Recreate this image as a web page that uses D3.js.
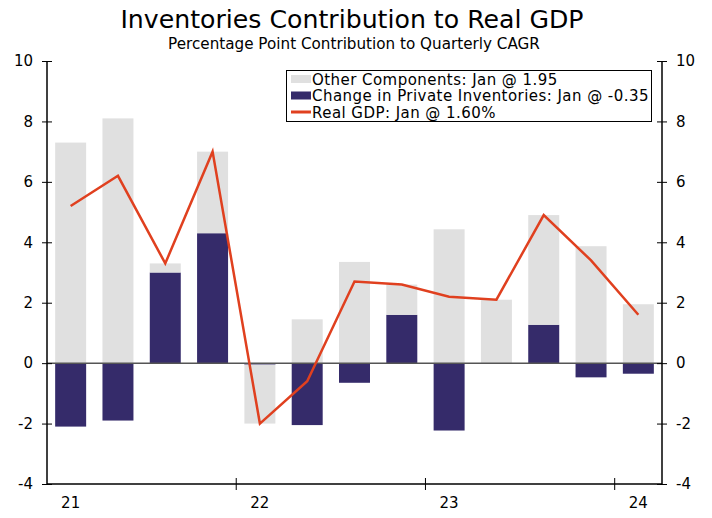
<!DOCTYPE html>
<html>
<head>
<meta charset="utf-8">
<script src="https://cdn.jsdelivr.net/npm/d3@7"></script>
<style>
  body { margin: 0; background: #fff; }
  svg { font-family: 'DejaVu Sans', Verdana, sans-serif; }
</style>
</head>
<body>
<svg width="712" height="518"></svg>
<script>
// Quarterly data, 2021Q1 - 2024Q1.
const QUARTERS = ['21Q1', '21Q2', '21Q3', '21Q4', '22Q1', '22Q2', '22Q3',
  '22Q4', '23Q1', '23Q2', '23Q3', '23Q4', '24Q1'];
const OTHER = [7.3, 8.1, 0.3, 2.7, -1.95, 1.45, 3.35, 1.0, 4.43, 2.1, 3.63,
  3.87, 1.95];
const INVENTORIES = [-2.1, -1.9, 3.0, 4.3, -0.05, -2.05, -0.65, 1.6, -2.23,
  0.0, 1.27, -0.47, -0.35];
const GDP = [5.2, 6.2, 3.3, 7.0, -2.0, -0.6, 2.7, 2.6, 2.2, 2.1, 4.9, 3.4, 1.6];
const Y_TICKS = [-4, -2, 0, 2, 4, 6, 8, 10];
const YEAR_LABELS = ['21', '22', '23', '24'];
const LEGEND_LABELS = [
  'Other Components: Jan @ 1.95',
  'Change in Private Inventories: Jan @ -0.35',
  'Real GDP: Jan @ 1.60%',
];

const COLORS = {
  OTHER: '#e0e0e0',
  INVENTORIES: '#352b6a',
  GDP: '#e0401f',
};

const svg = d3.select('svg');
const plotLeft = 47;
const plotRight = 662;
const plotTop = 61;
const plotBottom = 484;

const x = d3.scaleBand()
    .domain(QUARTERS)
    .range([plotLeft, plotRight])
    .paddingInner(0.345)
    .paddingOuter(0.1725);
const y = d3.scaleLinear().domain([-4, 10]).range([plotBottom, plotTop]);

// Stack each quarter: positives build up from 0, negatives build down.
const barRects = [];
QUARTERS.forEach((q, i) => {
  let pos = 0;
  let neg = 0;
  [['INVENTORIES', INVENTORIES[i]], ['OTHER', OTHER[i]]].forEach(([k, v]) => {
    if (v >= 0) {
      barRects.push({q, k, y0: pos, y1: pos + v});
      pos += v;
    } else {
      barRects.push({q, k, y0: neg + v, y1: neg});
      neg += v;
    }
  });
});

svg.append('g')
    .selectAll('rect')
    .data(barRects)
    .join('rect')
    .attr('x', d => x(d.q))
    .attr('width', x.bandwidth())
    .attr('y', d => y(d.y1))
    .attr('height', d => y(d.y0) - y(d.y1))
    .attr('fill', d => COLORS[d.k]);

// Zero line.
svg.append('line')
    .attr('x1', plotLeft).attr('x2', plotRight)
    .attr('y1', y(0)).attr('y2', y(0))
    .attr('stroke', '#555').attr('stroke-width', 1.5);

// GDP line.
svg.append('path')
    .datum(GDP)
    .attr('fill', 'none')
    .attr('stroke', COLORS.GDP)
    .attr('stroke-width', 2.5)
    .attr('d', d3.line()
        .x((d, i) => x(QUARTERS[i]) + x.bandwidth() / 2)
        .y(d => y(d)));

// Y axes, ticks crossing the axis line. Plain hyphen for negatives.
const styleAxis = g => {
  g.select('.domain').remove();
  g.selectAll('.tick line').attr('x1', -5).attr('x2', 5)
      .attr('stroke', '#000');
  g.selectAll('.tick text').attr('font-size', 15).attr('fill', '#000')
      .attr('font-family', 'DejaVu Sans, Verdana, sans-serif');
};
svg.append('g')
    .attr('transform', `translate(${plotLeft},0)`)
    .call(d3.axisLeft(y).tickValues(Y_TICKS).tickFormat(d => String(d))
        .tickSize(5).tickPadding(9))
    .call(styleAxis);
svg.append('g')
    .attr('transform', `translate(${plotRight},0)`)
    .call(d3.axisRight(y).tickValues(Y_TICKS).tickFormat(d => String(d))
        .tickSize(5).tickPadding(9))
    .call(styleAxis);
svg.append('g')
    .selectAll('line')
    .data([plotLeft, plotRight])
    .join('line')
    .attr('x1', d => d).attr('x2', d => d)
    .attr('y1', plotTop).attr('y2', plotBottom)
    .attr('stroke', '#000').attr('stroke-width', 1.5);

// Bottom axis with year ticks at the start of each Q1 band.
const halfGap = (x.step() - x.bandwidth()) / 2;
svg.append('line')
    .attr('x1', plotLeft).attr('x2', plotRight)
    .attr('y1', plotBottom).attr('y2', plotBottom)
    .attr('stroke', '#000').attr('stroke-width', 1.5);
const yearQ1 = YEAR_LABELS.map(yr => yr + 'Q1');
svg.append('g')
    .selectAll('line')
    .data(yearQ1.slice(1))
    .join('line')
    .attr('x1', d => x(d) - halfGap).attr('x2', d => x(d) - halfGap)
    .attr('y1', plotBottom - 6).attr('y2', plotBottom + 6)
    .attr('stroke', '#000');
svg.append('g')
    .selectAll('text')
    .data(yearQ1)
    .join('text')
    .attr('x', d => x(d) + x.bandwidth() / 2)
    .attr('y', plotBottom + 24)
    .attr('text-anchor', 'middle')
    .attr('font-size', 15)
    .text(d => d.slice(0, 2));

// Titles.
svg.append('text')
    .attr('x', 352).attr('y', 28)
    .attr('text-anchor', 'middle')
    .attr('font-size', 25.2)
    .text('Inventories Contribution to Real GDP');
svg.append('text')
    .attr('x', 354).attr('y', 48.5)
    .attr('text-anchor', 'middle')
    .attr('font-size', 15.2)
    .text('Percentage Point Contribution to Quarterly CAGR');

// Legend.
const legend = svg.append('g');
legend.append('rect')
    .attr('x', 286.5).attr('y', 70.5)
    .attr('width', 365).attr('height', 51)
    .attr('fill', '#fff').attr('stroke', '#000');
const legendKeys = ['OTHER', 'INVENTORIES', 'GDP'];
legendKeys.forEach((k, i) => {
  const cy = 79 + i * 16.5;
  if (k === 'GDP') {
    legend.append('line')
        .attr('x1', 291).attr('x2', 311)
        .attr('y1', cy).attr('y2', cy)
        .attr('stroke', COLORS[k]).attr('stroke-width', 3);
  } else {
    legend.append('rect')
        .attr('x', 291).attr('y', cy - 4)
        .attr('width', 20).attr('height', 8)
        .attr('fill', COLORS[k]);
  }
  legend.append('text')
      .attr('x', 312).attr('y', cy + 5.5)
      .attr('font-size', 15)
      .attr('letter-spacing', 0.45)
      .text(LEGEND_LABELS[i]);
});
</script>
</body>
</html>
